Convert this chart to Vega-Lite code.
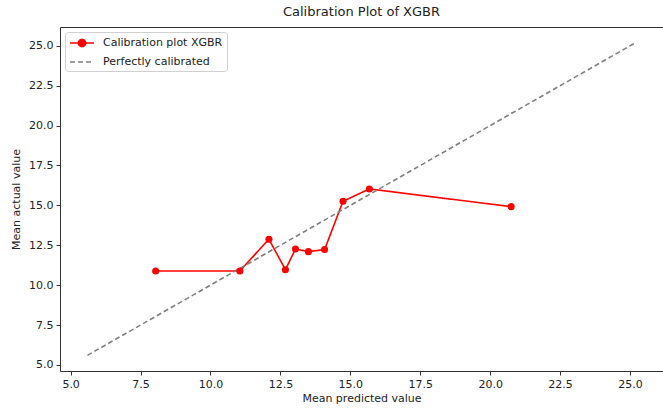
{
  "$schema": "https://vega.github.io/schema/vega-lite/v6.json",
  "width": 603,
  "height": 344,
  "autosize": {"type": "none"},
  "padding": {"left": 60, "top": 27, "right": 0, "bottom": 37},
  "background": "white",
  "title": {"text": "Calibration Plot of XGBR", "fontSize": 13, "fontWeight": "normal", "font": "DejaVu Sans", "color": "#222", "offset": 8, "anchor": "middle"},
  "config": {
    "view": {"stroke": "#333", "strokeWidth": 1},
    "axis": {"grid": false, "domain": false, "tickColor": "#333", "tickSize": 4, "labelFont": "DejaVu Sans", "labelFontSize": 11, "labelColor": "#222", "titleFont": "DejaVu Sans", "titleFontSize": 11, "titleFontWeight": "normal", "titleColor": "#222", "labelPadding": 3}
  },
  "data": {
    "values": [
      {"series": "Calibration plot XGBR", "pred": 8.04, "actual": 10.89, "order": 1},
      {"series": "Calibration plot XGBR", "pred": 11.05, "actual": 10.89, "order": 2},
      {"series": "Calibration plot XGBR", "pred": 12.09, "actual": 12.88, "order": 3},
      {"series": "Calibration plot XGBR", "pred": 12.68, "actual": 10.97, "order": 4},
      {"series": "Calibration plot XGBR", "pred": 13.04, "actual": 12.27, "order": 5},
      {"series": "Calibration plot XGBR", "pred": 13.5, "actual": 12.1, "order": 6},
      {"series": "Calibration plot XGBR", "pred": 14.08, "actual": 12.23, "order": 7},
      {"series": "Calibration plot XGBR", "pred": 14.74, "actual": 15.26, "order": 8},
      {"series": "Calibration plot XGBR", "pred": 15.68, "actual": 16.03, "order": 9},
      {"series": "Calibration plot XGBR", "pred": 20.75, "actual": 14.92, "order": 10},
      {"series": "Perfectly calibrated", "pred": 5.6, "actual": 5.6, "order": 1},
      {"series": "Perfectly calibrated", "pred": 25.2, "actual": 25.2, "order": 2}
    ]
  },
  "layer": [
    {
      "mark": {"type": "line", "strokeWidth": 1.6, "clip": true},
      "encoding": {
        "x": {"field": "pred", "type": "quantitative", "scale": {"domain": [4.62, 26.18], "nice": false, "zero": false}, "axis": {"values": [5, 7.5, 10, 12.5, 15, 17.5, 20, 22.5, 25], "format": ".1f", "title": "Mean predicted value", "titlePadding": 3}},
        "y": {"field": "actual", "type": "quantitative", "scale": {"domain": [4.62, 26.18], "nice": false, "zero": false}, "axis": {"values": [5, 7.5, 10, 12.5, 15, 17.5, 20, 22.5, 25], "format": ".1f", "title": "Mean actual value", "titlePadding": 7}},
        "order": {"field": "order", "type": "quantitative"},
        "color": {"field": "series", "type": "nominal", "scale": {"domain": ["Calibration plot XGBR", "Perfectly calibrated"], "range": ["#ff0000", "#808080"]},
          "legend": {"title": null, "orient": "top-left", "offset": 5, "padding": 4, "rowPadding": 5, "strokeColor": "#d0d0d0", "cornerRadius": 3, "fillColor": "white", "labelFont": "DejaVu Sans", "labelFontSize": 11, "labelColor": "#222", "symbolSize": 144, "symbolStrokeWidth": 1.6, "labelOffset": 20,
            "symbolType": "M-1,0H3",
            "encode": {"symbols": {"update": {
              "shape": [{"test": "datum.value === 'Calibration plot XGBR'", "value": "M-1,0H3M1.6,0A0.6,0.6,0,1,1,0.4,0A0.6,0.6,0,1,1,1.6,0Z"}, {"value": "M-1,0H3"}],
              "fill": [{"test": "datum.value === 'Calibration plot XGBR'", "value": "#ff0000"}, {"value": "transparent"}],
              "strokeDash": [{"test": "datum.value === 'Calibration plot XGBR'", "value": [1, 0]}, {"value": [5, 3]}]
            }}}}},
        "strokeDash": {"field": "series", "type": "nominal", "scale": {"domain": ["Calibration plot XGBR", "Perfectly calibrated"], "range": [[1, 0], [5, 3]]}, "legend": null}
      }
    },
    {
      "transform": [{"filter": "datum.series === 'Calibration plot XGBR'"}],
      "mark": {"type": "circle", "size": 50, "opacity": 1, "color": "#ff0000"},
      "encoding": {
        "x": {"field": "pred", "type": "quantitative"},
        "y": {"field": "actual", "type": "quantitative"}
      }
    }
  ]
}
